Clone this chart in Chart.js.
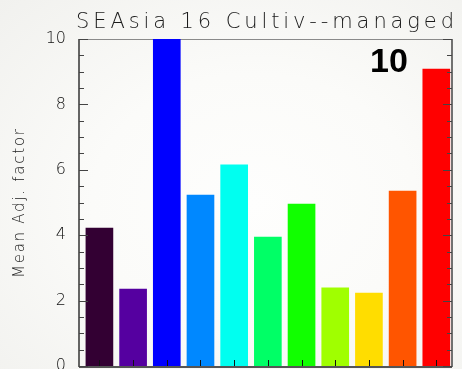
<!DOCTYPE html>
<html>
<head>
<meta charset="utf-8">
<script src="https://cdn.jsdelivr.net/npm/chart.js@4/dist/chart.umd.min.js"></script>
<style>
  html, body { margin: 0; padding: 0; }
  body {
    width: 462px; height: 369px; overflow: hidden;
    background: radial-gradient(ellipse at 55% 55%, #fefefd 0%, #fbfbf9 45%, #f1f1ee 100%);
  }
  #wrap { position: relative; width: 462px; height: 369px; }
</style>
</head>
<body>
<div id="wrap"><canvas id="c" width="462" height="369"></canvas></div>
<script>
// Eleven region classes, one bar each
const categories = [0, 1, 2, 3, 4, 5, 6, 7, 8, 9, 10];
const barValues = [4.22, 2.35, 10.5, 5.23, 6.15, 3.94, 4.95, 2.39, 2.23, 5.35, 9.08];
const barColors = ['#330033', '#5500a0', '#0000ff', '#0088ff', '#00fff0', '#00ff66',
                   '#11ff00', '#a0ff00', '#ffdd00', '#ff5500', '#ff0000'];
const yTicks = [0, 2, 4, 6, 8, 10];
const titleText = 'SEAsia 16 Cultiv--managed';
const yTitleText = 'Mean Adj. factor';
const cornerLabel = '10';

const lightFont = '"DejaVu Sans", sans-serif';

// Draws text with extra tracking so it spans a given width
function spacedText(ctx, text, x, y, width) {
  ctx.letterSpacing = '0px';
  const w = ctx.measureText(text).width;
  const sp = (width - w) / (text.length - 1);
  ctx.letterSpacing = sp + 'px';
  ctx.fillText(text, x, y);
  ctx.letterSpacing = '0px';
}

const framePlugin = {
  id: 'frame',
  // box edges go underneath the bars
  beforeDatasetsDraw(chart) {
    const { ctx, chartArea: a } = chart;
    ctx.save();
    ctx.strokeStyle = '#8a8a8a';
    ctx.lineWidth = 1;
    ctx.beginPath(); ctx.moveTo(a.left, a.top + 0.5); ctx.lineTo(a.right, a.top + 0.5); ctx.stroke();
    ctx.strokeStyle = '#333';
    ctx.lineWidth = 1.5;
    ctx.beginPath(); ctx.moveTo(a.left, a.top); ctx.lineTo(a.left, a.bottom + 1); ctx.stroke();
    ctx.strokeStyle = '#444';
    ctx.beginPath(); ctx.moveTo(a.right, a.top); ctx.lineTo(a.right, a.bottom + 1); ctx.stroke();
    ctx.strokeStyle = '#555';
    ctx.lineWidth = 2;
    ctx.beginPath(); ctx.moveTo(a.left, a.bottom + 1); ctx.lineTo(a.right, a.bottom + 1); ctx.stroke();
    ctx.restore();
  },
  afterDatasetsDraw(chart) {
    const { ctx, chartArea: a, scales } = chart;
    const ys = scales.y, xs = scales.x;
    ctx.save();
    // inward ticks on both vertical axes
    ctx.lineWidth = 1;
    ctx.strokeStyle = '#444';
    for (let v = 0; v <= 10; v += 0.5) {
      const py = Math.round(ys.getPixelForValue(v)) + 0.5;
      const len = (v % 2 === 0) ? 9 : 5;
      ctx.beginPath();
      ctx.moveTo(a.left, py); ctx.lineTo(a.left + len, py);
      ctx.moveTo(a.right, py); ctx.lineTo(a.right - len, py);
      ctx.stroke();
    }
    // ticks at bar centres along the bottom
    ctx.strokeStyle = '#111';
    categories.forEach(c => {
      const px = Math.round(xs.getPixelForValue(c)) + 0.5;
      ctx.beginPath(); ctx.moveTo(px, a.bottom); ctx.lineTo(px, a.bottom - 6); ctx.stroke();
    });

    // title
    ctx.fillStyle = '#1a1a1a';
    ctx.font = '300 21px ' + lightFont;
    ctx.textAlign = 'left';
    ctx.textBaseline = 'alphabetic';
    spacedText(ctx, titleText, 76, 28, 378);

    // vertical axis title
    ctx.save();
    ctx.translate(24, 278);
    ctx.rotate(-Math.PI / 2);
    ctx.font = '300 15px ' + lightFont;
    spacedText(ctx, yTitleText, 0, 0, 149);
    ctx.restore();

    // corner label
    ctx.font = 'bold 34px "Liberation Sans", Arial, sans-serif';
    ctx.textAlign = 'center';
    ctx.fillStyle = '#000';
    ctx.fillText(cornerLabel, 389, 72);
    ctx.restore();
  }
};

new Chart(document.getElementById('c'), {
  type: 'bar',
  data: {
    datasets: [{
      data: categories.map((c, i) => ({ x: c, y: barValues[i] })),
      backgroundColor: barColors,
      borderWidth: 0,
      barThickness: 27
    }]
  },
  options: {
    responsive: false,
    animation: false,
    events: [],
    layout: { padding: { left: 0, right: 10, top: 39, bottom: 3 } },
    plugins: { legend: { display: false }, tooltip: { enabled: false }, title: { display: false } },
    scales: {
      x: {
        type: 'linear',
        offset: false,
        min: -0.606,
        max: 10.466,
        display: false
      },
      y: {
        min: 0,
        max: 10,
        afterBuildTicks(scale) { scale.ticks = yTicks.map(v => ({ value: v })); },
        afterFit(scale) {
          scale.width = 79;
          scale.paddingTop = 0;
          scale.paddingBottom = 0;
        },
        grid: { display: false, drawTicks: false },
        border: { display: false },
        ticks: {
          padding: 13,
          color: '#111',
          font: { family: 'DejaVu Sans', size: 16, weight: 300 }
        }
      }
    }
  },
  plugins: [framePlugin]
});
</script>
</body>
</html>
